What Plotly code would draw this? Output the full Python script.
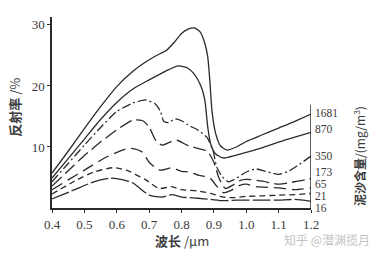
import plotly.graph_objects as go

# ---- data ----
wl_1681 = [0.40,0.45,0.50,0.55,0.60,0.65,0.68,0.72,0.755,0.78,0.80,0.82,0.84,0.857,0.872,0.881,0.888,0.894,0.905,0.92,0.94,0.97,1.00,1.05,1.10,1.15,1.20]
r_1681 = [5.7,9.3,13.0,16.6,19.9,22.4,23.6,24.9,25.9,27.3,28.6,29.3,29.5,28.9,27.0,24.8,20.5,16.0,12.3,10.2,9.5,10.0,10.9,12.0,13.1,14.2,15.4]

wl_870 = [0.40,0.45,0.50,0.55,0.60,0.65,0.70,0.75,0.79,0.82,0.84,0.86,0.872,0.881,0.89,0.905,0.928,0.95,1.00,1.05,1.10,1.15,1.20]
r_870 = [4.9,8.1,11.3,14.5,17.3,19.5,21.0,22.4,23.3,22.9,21.9,20.0,17.7,13.3,10.5,8.9,8.2,8.4,9.1,9.9,10.8,11.6,12.4]

wl_350 = [0.40,0.45,0.50,0.55,0.60,0.65,0.69,0.72,0.735,0.745,0.76,0.78,0.80,0.82,0.85,0.878,0.897,0.909,0.925,0.945,0.97,1.00,1.03,1.06,1.10,1.13,1.16,1.20]
r_350 = [4.3,7.3,10.3,13.2,15.8,17.2,17.7,17.0,15.8,14.2,14.0,14.6,14.3,13.6,12.8,11.6,9.5,6.7,5.2,4.3,4.9,5.9,6.4,6.0,5.5,6.0,7.0,8.5]

wl_173 = [0.40,0.45,0.50,0.55,0.60,0.65,0.68,0.70,0.72,0.74,0.765,0.786,0.817,0.847,0.88,0.90,0.915,0.935,0.96,0.98,1.00,1.05,1.10,1.15,1.20]
r_173 = [3.6,6.1,8.6,10.8,12.8,14.4,14.3,13.3,11.1,10.3,10.8,11.1,10.3,9.8,9.3,7.5,5.0,3.2,3.8,4.5,4.7,4.4,3.9,4.3,4.8]

wl_65 = [0.40,0.45,0.50,0.57,0.64,0.678,0.70,0.72,0.735,0.77,0.80,0.826,0.85,0.888,0.91,0.93,0.95,0.98,1.00,1.03,1.10,1.15,1.20]
r_65 = [3.0,4.6,6.2,8.4,9.8,9.2,7.5,6.6,6.2,6.6,6.0,5.9,5.4,4.9,3.5,2.5,2.8,3.7,3.9,3.5,3.3,3.0,3.3]

wl_21 = [0.40,0.477,0.53,0.588,0.63,0.69,0.73,0.77,0.80,0.85,0.89,0.93,0.96,1.00,1.05,1.10,1.15,1.20]
r_21 = [2.3,4.6,5.9,6.6,6.2,4.6,3.2,3.5,3.0,2.8,2.4,1.8,1.7,1.9,2.0,2.1,2.2,2.4]

wl_16 = [0.40,0.47,0.52,0.55,0.58,0.62,0.65,0.70,0.74,0.77,0.80,0.85,0.89,0.93,0.97,1.05,1.10,1.15,1.20]
r_16 = [1.5,3.0,4.1,4.6,4.9,4.6,4.1,2.1,1.8,2.2,1.8,1.6,1.4,1.2,1.3,1.3,1.3,1.4,1.1]

series_names = ["1681", "870", "350", "173", "65", "21", "16"]
x_ticks = [0.4, 0.5, 0.6, 0.7, 0.8, 0.9, 1.0, 1.1, 1.2]
x_tick_text = ["0.4", "0.5", "0.6", "0.7", "0.8", "0.9", "1.0", "1.1", "1.2"]
y_ticks = [10, 20, 30]

# ---- styling ----
LINE = "#2a2a2a"
TXT = "#3a3a3a"
dashes = ["solid", "solid", "9px,3px,2px,3px", "13px,5px", "12px,6px", "6px,4px", "18px,3px"]
label_y = [15.6, 13.0, 8.5, 5.85, 3.9, 1.95, 0.0]

data = [(wl_1681, r_1681), (wl_870, r_870), (wl_350, r_350), (wl_173, r_173),
        (wl_65, r_65), (wl_21, r_21), (wl_16, r_16)]

fig = go.Figure()
for (xs, ys), name, d in zip(data, series_names, dashes):
    fig.add_trace(go.Scatter(
        x=xs, y=ys, mode="lines", name=name,
        line=dict(color=LINE, width=1.3, dash=d, shape="spline", smoothing=0.6),
        showlegend=False, hoverinfo="skip"))

serif = "Liberation Serif"
cjk = "Noto Sans CJK SC"

fig.update_layout(
    width=386, height=258,
    margin=dict(l=52, r=75, t=17, b=50),
    paper_bgcolor="white", plot_bgcolor="white",
    xaxis=dict(range=[0.4, 1.2], tickvals=x_ticks, ticktext=x_tick_text,
               showgrid=False, zeroline=False, showline=True, linecolor=LINE,
               linewidth=1.5, ticks="outside", ticklen=3, tickcolor=LINE,
               ticklabelstandoff=1,
               tickfont=dict(family=serif, size=13, color=TXT)),
    yaxis=dict(range=[0, 31.3], tickvals=y_ticks, showgrid=False, zeroline=False,
               showline=True, linecolor=LINE, linewidth=1.5, ticks="outside",
               ticklen=3, tickcolor=LINE,
               tickfont=dict(family=serif, size=13, color=TXT)),
)

# right-hand frame line
fig.add_shape(type="line", xref="x", yref="y", x0=1.2, x1=1.2, y0=0, y1=16.9,
              line=dict(color=LINE, width=1.5))

# right-hand series labels
for name, ly in zip(series_names, label_y):
    fig.add_annotation(x=1.2, y=ly, xref="x", yref="y", text=name, showarrow=False,
                       xanchor="left", yanchor="middle", xshift=2,
                       font=dict(family=serif, size=11.5, color=TXT))

# axis titles
fig.add_annotation(x=0.5, y=-0.17, xref="paper", yref="paper", text="<b>波长</b> /μm",
                   showarrow=False, xanchor="center", yanchor="middle",
                   font=dict(family=cjk, size=13, color=TXT))
fig.add_annotation(x=-0.143, y=0.53, xref="paper", yref="paper", text="<b>反射率</b> /%",
                   showarrow=False, textangle=-90, xanchor="center", yanchor="middle",
                   font=dict(family=cjk, size=13, color=TXT))
fig.add_annotation(x=1.185, y=0.272, xref="paper", yref="paper",
                   text="<b>泥沙含量</b>/(mg/m<sup>3</sup>)",
                   showarrow=False, textangle=-90, xanchor="center", yanchor="middle",
                   font=dict(family=cjk, size=12, color=TXT))
# watermark
fig.add_annotation(x=1.062, y=-0.163, xref="paper", yref="paper", text="知乎 @潜渊揽月",
                   showarrow=False, xanchor="center", yanchor="middle",
                   font=dict(family=cjk, size=12, color="#c4c4c4"))

fig.write_html("out.html")
